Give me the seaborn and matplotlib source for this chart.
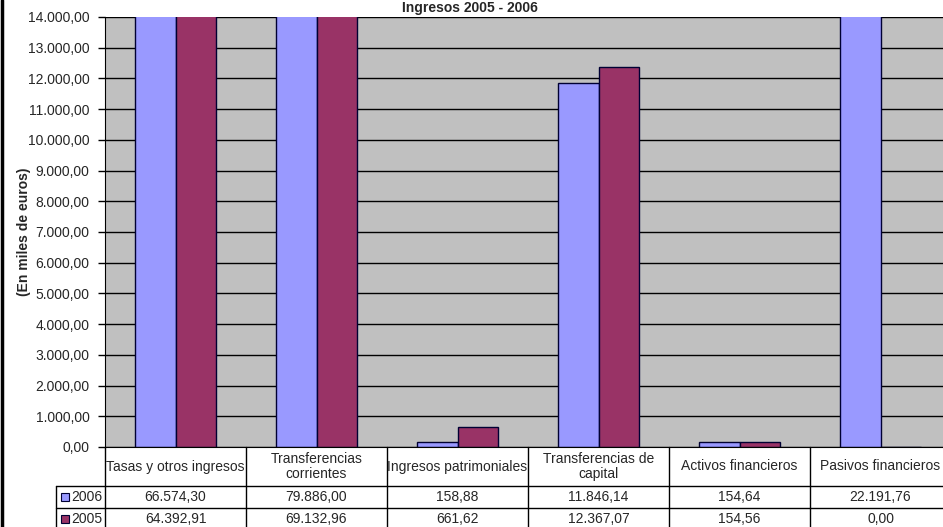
import pandas as pd
import matplotlib
matplotlib.use('Agg')
import matplotlib.pyplot as plt
import matplotlib.transforms as mtransforms
from matplotlib.patches import Rectangle
import seaborn as sns

# Data
categories = ['Tasas y otros ingresos', 'Transferencias\ncorrientes',
              'Ingresos patrimoniales', 'Transferencias de\ncapital',
              'Activos financieros', 'Pasivos financieros']
years = ['2006', '2005']
values_2006 = [66574.30, 79886.00, 158.88, 11846.14, 154.64, 22191.76]
values_2005 = [64392.91, 69132.96, 661.62, 12367.07, 154.56, 0.00]
colors = {'2006': '#9999FF', '2005': '#993366'}

df = pd.DataFrame({
    'category': categories * 2,
    'year': ['2006'] * 6 + ['2005'] * 6,
    'value': values_2006 + values_2005,
})


def fmt_es(v):
    s = f'{v:,.2f}'
    return s.replace(',', 'X').replace('.', ',').replace('X', '.')


W, H = 943, 527
sns.set_style('white')
plt.rcParams['font.family'] = ['Liberation Sans', 'DejaVu Sans']

fig = plt.figure(figsize=(W / 100, H / 100), dpi=100)


def fy(py):
    return 1 - py / H


# plot area in pixels: left 105, top 17, bottom 447, category width 141
ax = fig.add_axes([105 / W, fy(447), 6 * 141 / W, (447 - 17) / H])
ax.set_facecolor('#C0C0C0')
ax.set_axisbelow(True)
ax.yaxis.grid(True, color='black', linewidth=1)

sns.barplot(data=df, x='category', y='value', hue='year', hue_order=years,
            palette=colors, width=0.574, edgecolor='#000033', linewidth=1,
            saturation=1, legend=False, ax=ax)

ax.set_xlim(-0.5, 5.5)
ax.set_ylim(0, 14000)
ax.set_yticks(range(0, 14001, 1000))
ax.set_yticklabels([fmt_es(t) for t in range(0, 14001, 1000)], fontsize=10)
ax.tick_params(axis='y', direction='out', length=5, width=1, color='black',
               left=True, pad=6)
ax.set_xticks([])
ax.set_xlabel('')
ax.set_ylabel('')
for side in ['top', 'right']:
    ax.spines[side].set_visible(False)
ax.spines['left'].set_color('black')
ax.spines['bottom'].set_color('black')

fig.text(470 / W, fy(8), 'Ingresos 2005 - 2006', ha='center', va='center',
         fontsize=10, fontweight='bold')
fig.text(24 / W, fy(232), '(En miles de euros)', ha='center', va='center',
         rotation=90, fontsize=10, fontweight='bold')

# data table below the chart
tr = mtransforms.blended_transform_factory(ax.transData, fig.transFigure)
line_kw = dict(color='black', linewidth=1, clip_on=False)

ax.plot([-0.5, 5.5], [fy(486)] * 2, transform=tr, **line_kw)
ax.plot([-0.5, 5.5], [fy(508)] * 2, transform=tr, **line_kw)
fig.add_artist(plt.Line2D([56 / W, 105 / W], [fy(486)] * 2, color='black', lw=1))
fig.add_artist(plt.Line2D([56 / W, 105 / W], [fy(508)] * 2, color='black', lw=1))
fig.add_artist(plt.Line2D([56 / W] * 2, [fy(486), fy(530)], color='black', lw=1))

for k in range(7):
    ax.plot([k - 0.5] * 2, [fy(447), fy(530)], transform=tr, **line_kw)

for i, cat in enumerate(categories):
    ax.text(i, fy(466.5), cat, transform=tr, ha='center', va='center',
            fontsize=10, linespacing=1.15)
    ax.text(i, fy(497), fmt_es(values_2006[i]), transform=tr,
            ha='center', va='center', fontsize=10)
    ax.text(i, fy(519), fmt_es(values_2005[i]), transform=tr,
            ha='center', va='center', fontsize=10)

for yr, yc in zip(years, [497, 519]):
    fig.add_artist(Rectangle((61 / W, fy(yc + 4)), 8 / W, 8 / H,
                             facecolor=colors[yr], edgecolor='#000033', lw=0.8))
    fig.text(71 / W, fy(yc), yr, ha='left', va='center', fontsize=10)

# thick left border of the chart frame
fig.add_artist(plt.Line2D([1.5 / W] * 2, [0, 1], color='black', lw=2.5))

fig.savefig('out.png', dpi=100)
